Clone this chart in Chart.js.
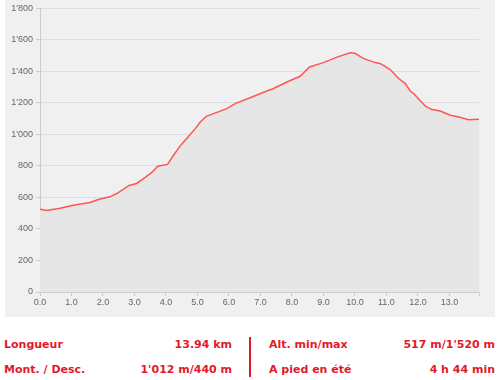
<!DOCTYPE html>
<html>
<head>
<meta charset="utf-8">
<script src="https://cdn.jsdelivr.net/npm/chart.js@4"></script>
<style>
html,body{margin:0;padding:0;background:#fff;width:500px;height:380px;overflow:hidden;}
#panel{position:absolute;left:5px;top:0;width:490px;height:317px;background:#f0f0f0;}
#panel canvas{position:absolute;left:0;top:0;}
.info{position:absolute;font-family:"DejaVu Sans",Verdana,sans-serif;font-weight:bold;font-size:11px;color:#e3192b;white-space:nowrap;line-height:13px;}
.r{text-align:right;}
#sep{position:absolute;left:249px;top:337px;width:2px;height:40px;background:#e3192b;}
</style>
</head>
<body>
<div id="panel"><canvas id="c" width="490" height="317"></canvas></div>
<div class="info" style="left:4px;top:338px;">Longueur</div>
<div class="info r" style="left:100px;width:132px;top:338px;">13.94 km</div>
<div class="info" style="left:4px;top:363px;">Mont. / Desc.</div>
<div class="info r" style="left:100px;width:132px;top:363px;">1'012 m/440 m</div>
<div id="sep"></div>
<div class="info" style="left:269px;top:338px;">Alt. min/max</div>
<div class="info r" style="left:360px;width:135px;top:338px;">517 m/1'520 m</div>
<div class="info" style="left:269px;top:363px;">A pied en été</div>
<div class="info r" style="left:360px;width:135px;top:363px;">4 h 44 min</div>
<script>
const distanceKm = [0.0,0.2,0.64,1.06,1.3,1.59,1.85,2.22,2.44,2.83,3.07,3.34,3.55,3.74,4.05,4.24,4.47,4.75,4.93,5.09,5.28,5.51,5.93,6.2,6.73,7.2,7.4,7.84,8.26,8.56,9.0,9.43,9.85,10.0,10.28,10.65,10.81,11.12,11.39,11.6,11.76,11.87,12.06,12.24,12.45,12.71,13.03,13.3,13.61,13.94];
const altitudeM = [526,518,532,551,558,568,587,604,625,676,689,727,759,798,810,868,932,995,1037,1079,1115,1132,1164,1196,1238,1276,1290,1333,1369,1428,1456,1491,1518,1515,1481,1456,1449,1412,1355,1323,1274,1259,1217,1179,1158,1149,1122,1111,1094,1097];
const yTicks = [0,200,400,600,800,1000,1200,1400,1600,1800];
const xMax = 13.94;

const pts = distanceKm.map((x,i)=>({x:x,y:altitudeM[i]}));
const fmtThousands = v => String(v).replace(/\B(?=(\d{3})+(?!\d))/g,"'");

new Chart(document.getElementById('c'),{
  type:'line',
  data:{datasets:[{
    data:pts,
    borderColor:'#ff5555',
    borderWidth:1.5,
    backgroundColor:'#e6e6e6',
    fill:'origin',
    pointRadius:0,
    tension:0
  }]},
  options:{
    responsive:false,
    animation:false,
    events:[],
    layout:{padding:{top:8,right:16,left:0,bottom:0}},
    plugins:{legend:{display:false},tooltip:{enabled:false}},
    scales:{
      x:{
        type:'linear',min:0,max:xMax,
        afterFit:s=>{s.height=25;},
        afterBuildTicks:s=>{
          const t=[];for(let i=0;i<=13;i++)t.push({value:i});t.push({value:xMax});s.ticks=t;
        },
        ticks:{
          autoSkip:false,maxRotation:0,padding:1,
          color:'#666',font:{family:'"Liberation Sans",Arial,sans-serif',size:9},
          callback:v=>Number.isInteger(v)?v.toFixed(1):''
        },
        grid:{drawOnChartArea:false,drawTicks:true,tickLength:4,color:'#cccccc'},
        border:{color:'#cccccc'}
      },
      y:{
        min:0,max:1800,
        afterFit:s=>{s.width=35;},
        afterBuildTicks:s=>{s.ticks=yTicks.map(v=>({value:v}));},
        ticks:{
          padding:3,
          color:'#666',font:{family:'"Liberation Sans",Arial,sans-serif',size:9},
          callback:v=>fmtThousands(v)
        },
        grid:{color:'#dedede',lineWidth:1,tickLength:4,tickColor:'#cccccc'},
        border:{color:'#cccccc'}
      }
    }
  }
});
</script>
</body>
</html>
